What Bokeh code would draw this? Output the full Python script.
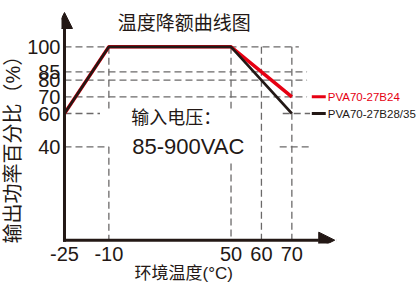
import numpy as np
from bokeh.plotting import figure
from bokeh.models import Range1d, FixedTicker, Label, Arrow, NormalHead, Title
from bokeh.embed import file_html
from bokeh.resources import INLINE

# ---------------- data ----------------
TEMP_TICKS = [-25, -10, 50, 60, 70]
PCT_TICKS = [40, 60, 70, 80, 85, 100]
TEMPS = [-25, -10, 50, 70]
PVA_B24 = [60, 100, 100, 70]
PVA_B28_35 = [60, 100, 100, 60]
SERIES_NAMES = ["PVA70-27B24", "PVA70-27B28/35"]
TITLE = "温度降额曲线图"
Y_TITLE = "输出功率百分比（%）"
X_TITLE = "环境温度(°C)"
NOTE_1 = "输入电压："
NOTE_2 = "85-900VAC"

# ---------------- layout / styles ----------------
RED = "#e60012"
BLACK = "#231815"
GRID = "#6b6969"
SANS = "'Liberation Sans', Arial, sans-serif"
CJK = "'Noto Sans CJK SC', sans-serif"
MIXED = "'Liberation Sans', 'Noto Sans CJK SC', sans-serif"

# schematic (non-uniform) temperature axis: breakpoints -> axis units
SCALE_T = [-25, -10, 50, 70]
SCALE_U = [0.0, 44.5, 167.0, 228.0]


def xs(t):
    t = np.asarray(t, dtype=float)
    u = np.interp(t, SCALE_T, SCALE_U)
    hi = (SCALE_U[-1] - SCALE_U[-2]) / (SCALE_T[-1] - SCALE_T[-2])
    u = np.where(t > SCALE_T[-1], SCALE_U[-1] + (t - SCALE_T[-1]) * hi, u)
    return u


AXIS_Y = -16          # where the temperature axis crosses
Y_TOP = 120.6         # tip of the vertical arrow
X_TIP_U = 271         # tip of the horizontal arrow (axis units)

# dashed reference lines: (value, from, to)
H_GRID = [(100, -25, 72.3), (85, -25, 75), (80, -25, 75), (70, -25, 75),
          (60, -25, -13), (60, 67, 76), (40, -25, -10), (40, 66, 76)]
V_GRID = [(-10, 100, 63), (-10, 40, AXIS_Y), (50, 100, 63), (50, 30, AXIS_Y),
          (60, 100, AXIS_Y), (70, 100, AXIS_Y)]

p = figure(width=417, height=291, x_range=Range1d(-3, 354), y_range=Range1d(-18, 127.8),
           output_backend="svg", toolbar_location=None, title=None,
           min_border_left=60, min_border_right=0, min_border_top=0, min_border_bottom=48)
p.outline_line_color = None
p.grid.grid_line_color = None
p.background_fill_color = "white"
p.border_fill_color = "white"

# axes (ticks/labels only; lines drawn as arrows)
p.xaxis.ticker = FixedTicker(ticks=[float(u) for u in xs(TEMP_TICKS)])
p.xaxis.major_label_overrides = {float(u): str(t) for u, t in zip(xs(TEMP_TICKS), TEMP_TICKS)}
p.yaxis.ticker = FixedTicker(ticks=PCT_TICKS)
for ax in (p.xaxis, p.yaxis):
    ax.axis_line_color = None
    ax.major_tick_line_color = None
    ax.minor_tick_line_color = None
    ax.major_tick_out = 0
    ax.major_tick_in = 0
    ax.major_label_text_font = SANS
    ax.major_label_text_font_size = "20px"
    ax.major_label_text_color = BLACK
p.xaxis.major_label_standoff = 3
p.yaxis.major_label_standoff = 1

# axis titles
p.add_layout(Title(text=Y_TITLE, text_font=MIXED, text_font_size="20px", text_font_style="normal",
                   text_color=BLACK, align="left", offset=0, standoff=0,
                   vertical_align="middle"), "left")
p.add_layout(Title(text=X_TITLE, text_font=MIXED, text_font_size="17px", text_font_style="normal",
                   text_color=BLACK, align="left", offset=73, standoff=0,
                   vertical_align="top"), "below")

# dashed grid
for v, t0, t1 in H_GRID:
    p.line(x=list(xs([t0, t1])), y=[v, v], line_color=GRID, line_width=1.3, line_dash="7 4")
for t, v0, v1 in V_GRID:
    p.line(x=list(xs([t, t])), y=[v0, v1], line_color=GRID, line_width=1.3, line_dash="7 4")

# derating curves
p.line(x=list(xs(TEMPS)), y=PVA_B24, line_color=RED, line_width=3.5)
p.line(x=list(xs(TEMPS)), y=PVA_B28_35, line_color=BLACK, line_width=2.6)

# axis arrows
p.add_layout(Arrow(end=NormalHead(size=16, fill_color=BLACK, line_color=BLACK),
                   x_start=0, y_start=AXIS_Y, x_end=0, y_end=Y_TOP,
                   line_width=3, line_color=BLACK, line_cap="square"))
p.add_layout(Arrow(end=NormalHead(size=16, fill_color=BLACK, line_color=BLACK),
                   x_start=0, y_start=AXIS_Y, x_end=X_TIP_U, y_end=AXIS_Y,
                   line_width=3, line_color=BLACK, line_cap="square"))

# legend (inline, at the end values of the curves)
for name, vals, col in zip(SERIES_NAMES, [PVA_B24, PVA_B28_35], [RED, BLACK]):
    p.line(x=[248, 262], y=[vals[-1], vals[-1]], line_color=col, line_width=3)
    p.add_layout(Label(x=264, y=vals[-1], text=name, text_color=col, text_font=SANS,
                       text_font_size="11.5px", text_baseline="middle", text_align="left"))

# texts
p.add_layout(Label(x=120, y=115.5, text=TITLE, text_font=CJK, text_font_size="19px",
                   text_color=BLACK, text_align="center", text_baseline="middle"))
p.add_layout(Label(x=67, y=58.8, text=NOTE_1, text_font=CJK, text_font_size="18px",
                   text_color=BLACK, text_align="left", text_baseline="middle"))
p.add_layout(Label(x=68, y=40.4, text=NOTE_2, text_font=SANS, text_font_size="22px",
                   text_color=BLACK, text_align="left", text_baseline="alphabetic"))

open("out.html", "w").write(file_html(p, INLINE))
